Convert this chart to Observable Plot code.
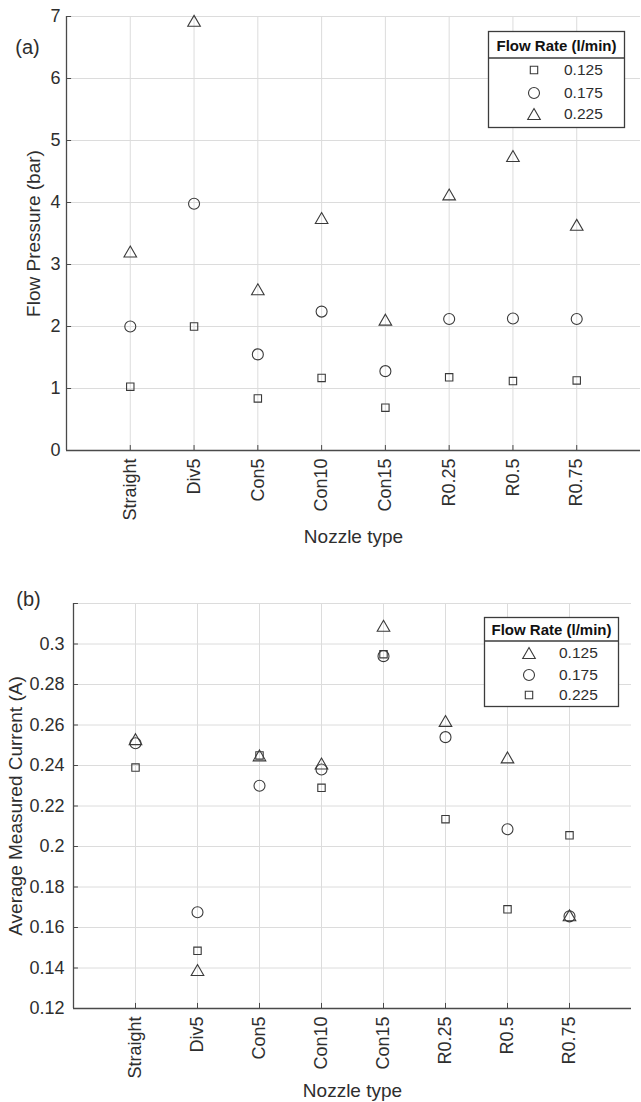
<!DOCTYPE html>
<html><head><meta charset="utf-8">
<script src="https://cdn.jsdelivr.net/npm/d3@7"></script>
<script src="https://cdn.jsdelivr.net/npm/@observablehq/plot@0.6"></script>
<style>
body{margin:0;background:#fff;}
#wrap{position:relative;width:641px;height:1102px;font-family:"Liberation Sans",Arial,Helvetica,sans-serif;}
.panel{position:absolute;left:0;}
.legend{position:absolute;left:0;top:0;overflow:visible;pointer-events:none;}
</style></head>
<body><div id="wrap"></div>
<script>
// ---------- data ----------
const categories = ["Straight","Div5","Con5","Con10","Con15","R0.25","R0.5","R0.75"];
const flowRates = ["0.125","0.175","0.225"];

// (a) Flow pressure (bar)
const pressure0125 = [1.03, 2.00, 0.84, 1.17, 0.69, 1.18, 1.12, 1.13];
const pressure0175 = [2.00, 3.98, 1.55, 2.24, 1.28, 2.12, 2.13, 2.12];
const pressure0225 = [3.21, 6.93, 2.60, 3.75, 2.11, 4.13, 4.75, 3.64];
const pressureTicks = [0,1,2,3,4,5,6,7];

// (b) Average measured current (A)
const current0125 = [0.253, 0.139, 0.245, 0.241, 0.309, 0.262, 0.244, 0.166];
const current0175 = [0.251, 0.1675, 0.230, 0.238, 0.294, 0.254, 0.2085, 0.1655];
const current0225 = [0.239, 0.1485, 0.245, 0.229, 0.295, 0.2135, 0.169, 0.2055];
const currentTicks = [0.12,0.14,0.16,0.18,0.2,0.22,0.24,0.26,0.28,0.3,0.32];
const currentTickLabels = ["0.12","0.14","0.16","0.18","0.2","0.22","0.24","0.26","0.28","0.3",""];

// ---------- helpers ----------
const FONT = '"Liberation Sans",Arial,Helvetica,sans-serif';
const INK = "#2e2e2e";
const AXIS = "#4a4a4a";
const GRID = "#dcdcdc";
const MARK = "#3a3a3a";

function makeSymbol(kind){
  return {draw(ctx, size){
    const r = Math.sqrt(size/Math.PI);
    if (kind === "square") { ctx.rect(-r,-r,2*r,2*r); }
    else if (kind === "circle") { ctx.moveTo(r,0); ctx.arc(0,0,r,0,2*Math.PI); }
    else { const h = r*Math.sqrt(3)/2; ctx.moveTo(0,-h); ctx.lineTo(r,h); ctx.lineTo(-r,h); ctx.closePath(); }
  }};
}
const SYM = {square: makeSymbol("square"), circle: makeSymbol("circle"), triangle: makeSymbol("triangle")};
const SIZE = {square: 3.7, circle: 5.5, triangle: 6.3};

const xTicks = categories.map((c,i)=>i+1);

function rows(values){ return values.map((v,i)=>({x:i+1, cat:categories[i], v})); }

function panel({series, yDomain, yTicks, yTickFormat, height, mt, mb, ml, mr, yLabel, yLabelDx, xLabelDy, panelLabel, plDx, plDy, yPad, xTickLen, yTickLen}){
  const marks = [
    Plot.gridY(yTicks, {stroke: GRID, strokeOpacity: 1, strokeWidth: 1}),
    Plot.gridX(xTicks, {stroke: GRID, strokeOpacity: 1, strokeWidth: 1}),
    Plot.ruleY(yTicks, {y: d=>d, x1: 0, x2: yTickLen, stroke: AXIS, strokeWidth: 1}),
    Plot.ruleX(xTicks, {x: d=>d, y1: yDomain[0], y2: yDomain[0] + xTickLen, stroke: AXIS, strokeWidth: 1}),
    Plot.ruleX([0], {stroke: AXIS, strokeWidth: 1.3}),
    Plot.ruleY([yDomain[0]], {stroke: AXIS, strokeWidth: 1.3}),
    Plot.axisY(yTicks, {tickSize: 0, tickPadding: yPad, tickFormat: yTickFormat, label: null, fontSize: 18, fill: INK}),
    Plot.axisX(xTicks, {tickSize: 0, tickPadding: 8, tickRotate: -90, tickFormat: i=>categories[i-1], label: null, fontSize: 18, fill: INK}),
    Plot.text([yLabel], {frameAnchor: "left", rotate: -90, dx: yLabelDx, textAnchor: "middle", lineAnchor: "middle", fontSize: 19, fill: INK}),
    Plot.text(["Nozzle type"], {frameAnchor: "bottom", dy: xLabelDy, textAnchor: "middle", lineAnchor: "middle", fontSize: 19, fill: INK}),
    Plot.text([panelLabel], {frameAnchor: "top-left", dx: plDx, dy: plDy, textAnchor: "middle", lineAnchor: "middle", fontSize: 20, fill: INK})
  ];
  for (const s of series) {
    marks.push(Plot.dot(rows(s.values), {x: "x", y: "v", symbol: SYM[s.shape], r: SIZE[s.shape], stroke: MARK, strokeWidth: 1.1, fill: "none"}));
  }
  return Plot.plot({
    width: 641, height,
    marginTop: mt, marginBottom: mb, marginLeft: ml, marginRight: mr,
    style: {fontFamily: FONT, color: INK, background: "transparent"},
    x: {domain: [0, 9]},
    y: {domain: yDomain},
    marks
  });
}

function legend(container, {left, top, width, height, sep, rowsY, markX, textX, entries}){
  const svg = d3.select(container).append("svg").attr("class","legend")
    .attr("width", 641).attr("height", 552);
  const g = svg.append("g").attr("transform", `translate(${left},${top})`);
  g.append("rect").attr("x",0.5).attr("y",0.5).attr("width",width).attr("height",height)
    .attr("fill","#fff").attr("stroke","#3c3c3c").attr("stroke-width",1.3);
  g.append("line").attr("x1",0.5).attr("x2",width+0.5).attr("y1",sep).attr("y2",sep)
    .attr("stroke","#3c3c3c").attr("stroke-width",1.3);
  g.append("text").attr("x", width/2 + 0.5).attr("y", sep/2 + 1).attr("dy","0.35em")
    .attr("text-anchor","middle").attr("font-family",FONT).attr("font-size",15).attr("font-weight","bold")
    .attr("fill","#111").text("Flow Rate (l/min)");
  entries.forEach((e,i)=>{
    const path = d3.path();
    SYM[e.shape].draw(path, Math.PI*SIZE[e.shape]*SIZE[e.shape]);
    g.append("path").attr("d", path.toString()).attr("transform",`translate(${markX},${rowsY[i]})`)
      .attr("fill","none").attr("stroke",MARK).attr("stroke-width",1.1);
    g.append("text").attr("x", textX).attr("y", rowsY[i]).attr("dy","0.35em")
      .attr("font-family",FONT).attr("font-size",15.5).attr("fill",INK).text(e.label);
  });
}

const wrap = document.getElementById("wrap");

// ---------- panel (a) ----------
const divA = document.createElement("div"); divA.className = "panel"; divA.style.top = "0px"; divA.style.width="641px"; divA.style.height="550px";
wrap.appendChild(divA);
divA.appendChild(panel({
  series: [{shape:"square", values: pressure0125},{shape:"circle", values: pressure0175},{shape:"triangle", values: pressure0225}],
  yDomain: [0, 7], yTicks: pressureTicks, yTickFormat: d=>String(d),
  height: 550, mt: 16, mb: 100, ml: 66, mr: 1,
  yLabel: "Flow Pressure (bar)", yLabelDx: -33, xLabelDy: 86,
  panelLabel: "(a)", plDx: -39, plDy: 31, yPad: 6, xTickLen: 0.08, yTickLen: 0.08
}));
legend(divA, {left: 488, top: 31, width: 136, height: 96, sep: 27, rowsY: [39, 62, 83], markX: 46, textX: 76,
  entries: [{shape:"square", label: flowRates[0]},{shape:"circle", label: flowRates[1]},{shape:"triangle", label: flowRates[2]}]});

// ---------- panel (b) ----------
const divB = document.createElement("div"); divB.className = "panel"; divB.style.top = "550px"; divB.style.width="641px"; divB.style.height="552px";
wrap.appendChild(divB);
divB.appendChild(panel({
  series: [{shape:"square", values: current0225},{shape:"circle", values: current0175},{shape:"triangle", values: current0125}],
  yDomain: [0.12, 0.32], yTicks: currentTicks, yTickFormat: (d,i)=>currentTickLabels[i],
  height: 552, mt: 53, mb: 94, ml: 73, mr: 10,
  yLabel: "Average Measured Current (A)", yLabelDx: -58, xLabelDy: 82,
  panelLabel: "(b)", plDx: -45, plDy: -4, yPad: 9, xTickLen: 0.0025, yTickLen: 0.08
}));
legend(divB, {left: 484, top: 67, width: 134, height: 89, sep: 24, rowsY: [36, 58, 78], markX: 45, textX: 75,
  entries: [{shape:"triangle", label: flowRates[0]},{shape:"circle", label: flowRates[1]},{shape:"square", label: flowRates[2]}]});
</script>
</body></html>
